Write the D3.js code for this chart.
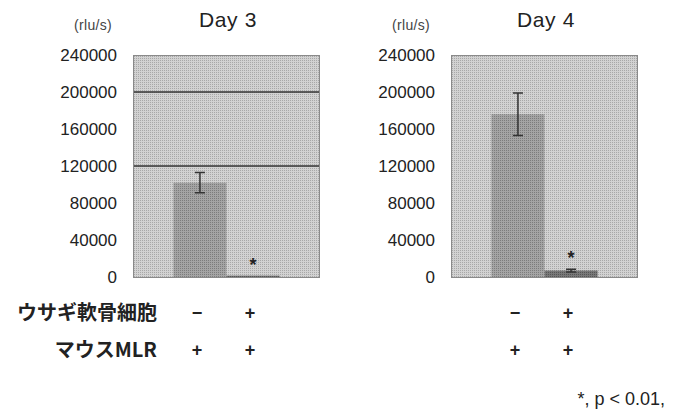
<!DOCTYPE html>
<meta charset="utf-8">
<style>
body { margin: 0; background: #fff; }
text { font-family: "Liberation Sans", Arial, sans-serif; fill: #222; }
.tick text { font-size: 17px; }
.title { font-size: 21px; letter-spacing: 0.6px; }
.unit { font-size: 14px; fill: #444; letter-spacing: 0.3px; }
.row { font-family: "Noto Sans CJK JP", sans-serif; font-size: 20px; font-weight: bold; }
.sign { font-size: 18px; font-weight: bold; }
.note { font-size: 18px; }
.frame { fill: none; stroke: #8a8a8a; stroke-width: 1px; }
.grid { stroke: #333; stroke-width: 1.5px; }
.err { stroke: #333; stroke-width: 1.5px; fill: none; }
</style>
<svg width="674" height="419"></svg>
<script src="https://cdn.jsdelivr.net/npm/d3@7"></script>
<script>
// values
var days = ["Day 3", "Day 4"];
var groups = ["a", "b"];
var rabbitCells = ["−", "+"];
var mouseMLR = ["+", "+"];
var day3Mean = [102000, 1500];
var day3Err = [11000, 0];
var day4Mean = [176000, 7000];
var day4Err = [23000, 1500];
var day3Grid = [120000, 200000];
var day4Grid = [];
var yTicks = [0, 40000, 80000, 120000, 160000, 200000, 240000];

var svg = d3.select("svg");

// halftone look of the scanned figure
var defs = svg.append("defs");
function halftone(id, a, b) {
  var p = defs.append("pattern")
      .attr("id", id)
      .attr("width", 2)
      .attr("height", 2)
      .attr("patternUnits", "userSpaceOnUse");
  p.append("rect").attr("width", 2).attr("height", 2).attr("fill", a);
  p.append("rect").attr("width", 1).attr("height", 1).attr("fill", b);
}
halftone("bg", "#d2d2d2", "#a8a8a8");
halftone("bar1", "#a4a4a4", "#7c7c7c");
halftone("bar2", "#787878", "#555");

var y = d3.scaleLinear()
    .domain([0, 240000])
    .range([277, 55]);

var panels = [
  {day: days[0], left: 133, mean: day3Mean, err: day3Err, grid: day3Grid},
  {day: days[1], left: 451, mean: day4Mean, err: day4Err, grid: day4Grid}
];

panels.forEach(function(p) {
  var x = d3.scaleBand()
      .domain(groups)
      .range([p.left, p.left + 187])
      .paddingInner(0)
      .paddingOuter(0.76);

  var g = svg.append("g");

  g.append("rect")
      .attr("x", p.left)
      .attr("y", y(240000))
      .attr("width", 187)
      .attr("height", y(0) - y(240000))
      .attr("fill", "url(#bg)");

  g.selectAll(".grid")
    .data(p.grid)
    .enter().append("line")
      .attr("class", "grid")
      .attr("x1", p.left)
      .attr("x2", p.left + 187)
      .attr("y1", function(d) { return y(d); })
      .attr("y2", function(d) { return y(d); });

  g.selectAll(".bar")
    .data(p.mean)
    .enter().append("rect")
      .attr("class", "bar")
      .attr("x", function(d, i) { return x(groups[i]); })
      .attr("y", function(d) { return y(d); })
      .attr("width", x.bandwidth())
      .attr("height", function(d) { return y(0) - y(d); })
      .attr("fill", function(d, i) { return i ? "url(#bar2)" : "url(#bar1)"; });

  g.selectAll(".errbar")
    .data(p.mean.map(function(m, i) { return {m: m, e: p.err[i], k: groups[i]}; })
      .filter(function(d) { return d.e > 0; }))
    .enter().append("path")
      .attr("class", "err")
      .attr("d", function(d) {
        var cx = x(d.k) + x.bandwidth() / 2,
            t = y(d.m + d.e), b = y(d.m - d.e);
        return "M" + (cx - 5) + "," + t + "H" + (cx + 5) +
               "M" + cx + "," + t + "V" + b +
               "M" + (cx - 5) + "," + b + "H" + (cx + 5);
      });

  g.append("rect")
      .attr("class", "frame")
      .attr("x", p.left + 0.5)
      .attr("y", y(240000) + 0.5)
      .attr("width", 186)
      .attr("height", y(0) - y(240000));

  // significance star over the second bar
  var i2 = 1;
  g.append("text")
      .attr("x", x(groups[i2]) + x.bandwidth() / 2)
      .attr("y", y(p.mean[i2] + p.err[i2]) - 5)
      .attr("text-anchor", "middle")
      .style("font-size", "18px")
      .style("font-weight", "bold")
      .text("*");

  var ax = g.append("g")
      .attr("transform", "translate(" + (p.left - 16) + ",0)")
      .call(d3.axisLeft(y).tickValues(yTicks).tickFormat(d3.format("d")).tickSize(0).tickPadding(0));
  ax.select(".domain").remove();
  ax.selectAll(".tick text").attr("fill", "#222");

  g.append("text")
      .attr("class", "unit")
      .attr("x", p.left - 40)
      .attr("y", 30)
      .attr("text-anchor", "middle")
      .text("(rlu/s)");

  g.append("text")
      .attr("class", "title")
      .attr("x", p.left + 95)
      .attr("y", 27)
      .attr("text-anchor", "middle")
      .text(p.day);

  g.selectAll(".s1")
    .data(rabbitCells)
    .enter().append("text")
      .attr("class", "sign")
      .attr("x", function(d, i) { return x(groups[i]) + x.bandwidth() / 2 - 3; })
      .attr("y", 319)
      .attr("text-anchor", "middle")
      .text(function(d) { return d; });

  g.selectAll(".s2")
    .data(mouseMLR)
    .enter().append("text")
      .attr("class", "sign")
      .attr("x", function(d, i) { return x(groups[i]) + x.bandwidth() / 2 - 3; })
      .attr("y", 356)
      .attr("text-anchor", "middle")
      .text(function(d) { return d; });
});

svg.append("text")
    .attr("class", "row")
    .attr("x", 157)
    .attr("y", 320)
    .attr("text-anchor", "end")
    .text("ウサギ軟骨細胞");

svg.append("text")
    .attr("class", "row")
    .attr("x", 157)
    .attr("y", 357)
    .attr("text-anchor", "end")
    .text("マウスMLR");

svg.append("text")
    .attr("class", "note")
    .attr("x", 665)
    .attr("y", 405)
    .attr("text-anchor", "end")
    .text("*, p < 0.01,");
</script>
